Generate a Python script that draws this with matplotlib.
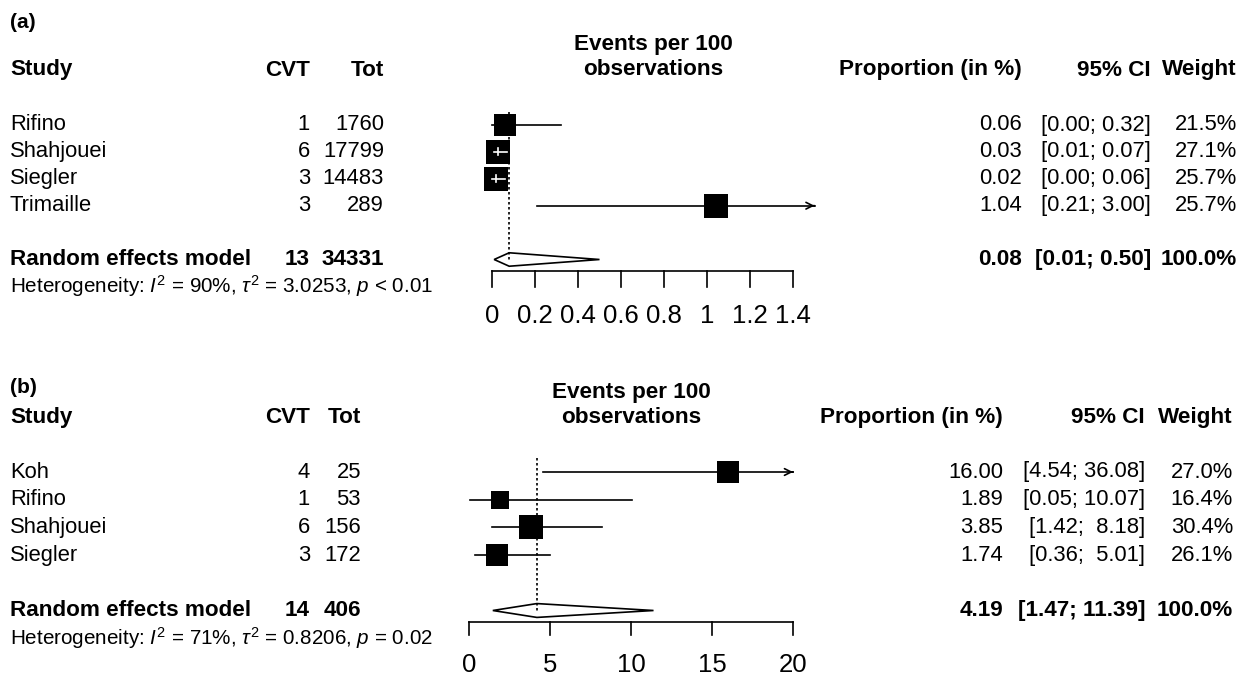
import numpy as np
import matplotlib
matplotlib.use("Agg")
import matplotlib.pyplot as plt
from matplotlib.transforms import blended_transform_factory
from matplotlib.patches import Polygon

plt.rcParams['font.family'] = ['Liberation Sans', 'DejaVu Sans']
plt.rcParams['mathtext.fontset'] = 'custom'
plt.rcParams['mathtext.rm'] = 'Liberation Sans'
plt.rcParams['mathtext.it'] = 'Liberation Sans:italic'
plt.rcParams['mathtext.bf'] = 'Liberation Sans:bold'

# --- данные панели (a) ---
studies_a = ["Rifino", "Shahjouei", "Siegler", "Trimaille"]
cvt_a = [1, 6, 3, 3]
tot_a = [1760, 17799, 14483, 289]
prop_a = [0.06, 0.03, 0.02, 1.04]
lo_a = [0.00, 0.01, 0.00, 0.21]
hi_a = [0.32, 0.07, 0.06, 3.00]
weight_a = [21.5, 27.1, 25.7, 25.7]
re_a = [0.08, 0.01, 0.50]  # оценка, нижняя, верхняя граница
re_cvt_a, re_tot_a = 13, 34331
het_a = r"Heterogeneity: $I^2$ = 90%, $\tau^2$ = 3.0253, $p$ < 0.01"
ticks_a = [0, 0.2, 0.4, 0.6, 0.8, 1, 1.2, 1.4]
ticklabels_a = ["0", "0.2", "0.4", "0.6", "0.8", "1", "1.2", "1.4"]
xlim_a = [0, 1.5]

# --- данные панели (b) ---
studies_b = ["Koh", "Rifino", "Shahjouei", "Siegler"]
cvt_b = [4, 1, 6, 3]
tot_b = [25, 53, 156, 172]
prop_b = [16.00, 1.89, 3.85, 1.74]
lo_b = [4.54, 0.05, 1.42, 0.36]
hi_b = [36.08, 10.07, 8.18, 5.01]
weight_b = [27.0, 16.4, 30.4, 26.1]
re_b = [4.19, 1.47, 11.39]
re_cvt_b, re_tot_b = 14, 406
het_b = r"Heterogeneity: $I^2$ = 71%, $\tau^2$ = 0.8206, $p$ = 0.02"
ticks_b = [0, 5, 10, 15, 20]
ticklabels_b = ["0", "5", "10", "15", "20"]
xlim_b = [0, 20]

W, H = 1252, 675
fig = plt.figure(figsize=(W / 100, H / 100), dpi=100)

FS = 15.8       # строки таблицы
FS_BOLD = 16.2  # заголовки и итоговая строка
FS_HET = 14.9
FS_TICK = 18.5


def draw_panel(label, studies, cvt, tot, prop, lo, hi, weight, re, re_cvt, re_tot,
               het, ticks, ticklabels, xlim, geo):
    # geo: раскладка в пикселях
    top, bottom, p0, s = geo["top"], geo["bottom"], geo["p0"], geo["s"]
    x0px, x1px = geo["x0px"], geo["x1px"]

    def row(px):
        return (px - p0) / s

    ax = fig.add_axes([440 / W, 1 - bottom / H, 400 / W, (bottom - top) / H])
    ppu = (x1px - x0px) / (xlim[1] - xlim[0])
    ax.set_xlim(xlim[0] - (x0px - 440) / ppu, xlim[1] + (840 - x1px) / ppu)
    ax.set_ylim(row(bottom), row(top))
    ax.axis("off")

    tr = blended_transform_factory(fig.transFigure, ax.transData)

    def txt(xpx, y, t, ha="left", bold=False, size=None):
        if size is None:
            size = FS_BOLD if bold else FS
        ax.text(xpx / W, y, t, transform=tr, ha=ha, va="center", fontsize=size,
                fontweight="bold" if bold else "normal", color="black")

    n = len(studies)
    y_sum = n + 1
    y_het = n + 2

    # заголовки
    txt(10, row(geo["label_y"]), label, bold=True, size=15)
    hy = row(geo["head_y"])
    txt(10, hy, "Study", bold=True)
    txt(310, hy, "CVT", ha="right", bold=True)
    txt(geo["tot_x"], hy, "Tot", ha="right", bold=True)
    txt(geo["prop_x"], hy, "Proportion (in %)", ha="right", bold=True)
    txt(geo["ci_x"], hy, "95% CI", ha="right", bold=True)
    txt(geo["w_x"], hy, "Weight", ha="right", bold=True)
    ax.text((xlim[0] + xlim[1]) / 2, row(geo["title_y"]), "Events per 100\nobservations",
            ha="center", va="center", fontsize=FS_BOLD, fontweight="bold", linespacing=1.2)

    wd = max(len(f"{v:.2f}") for v in hi)

    for i in range(n):
        txt(10, i, studies[i])
        txt(310, i, str(cvt[i]), ha="right")
        txt(geo["tot_x"], i, str(tot[i]), ha="right")
        txt(geo["prop_x"], i, f"{prop[i]:.2f}", ha="right")
        txt(geo["ci_x"], i, f"[{lo[i]:.2f}; {hi[i]:{wd}.2f}]", ha="right")
        txt(geo["w_x"], i, f"{weight[i]:.1f}%", ha="right")

    txt(10, y_sum, "Random effects model", bold=True)
    txt(310, y_sum, str(re_cvt), ha="right", bold=True)
    txt(geo["tot_x"], y_sum, str(re_tot), ha="right", bold=True)
    txt(geo["prop_x"], y_sum, f"{re[0]:.2f}", ha="right", bold=True)
    txt(geo["ci_x"], y_sum, f"[{re[1]:.2f}; {re[2]:.2f}]", ha="right", bold=True)
    txt(geo["w_x"], y_sum, "100.0%", ha="right", bold=True)
    txt(10, y_het, het, size=FS_HET)

    # квадраты и доверительные интервалы
    wmax = max(weight)
    for i in range(n):
        side = 24 * np.sqrt(weight[i] / wmax)
        half = side / 2 / ppu
        inside = lo[i] >= prop[i] - half and hi[i] <= prop[i] + half
        if inside:
            ax.plot([lo[i], hi[i]], [i, i], color="white", lw=1.2, zorder=4)
            ax.plot([prop[i], prop[i]], [i - 0.13, i + 0.13], color="white", lw=1.2, zorder=4)
        else:
            right = min(hi[i], xlim[1])
            ax.plot([max(lo[i], xlim[0]), right], [i, i], color="black", lw=1.2, zorder=2)
            if hi[i] > xlim[1]:
                ax.annotate("", xy=(xlim[1], i), xytext=(xlim[1] - 0.001 * (xlim[1] - xlim[0]), i),
                            arrowprops=dict(arrowstyle="->", color="black", lw=1.2,
                                            mutation_scale=12, shrinkA=0, shrinkB=0))
        ax.scatter([prop[i]], [i], marker="s", s=(side * 0.72) ** 2,
                   color="black", linewidths=0, zorder=3)

    # итоговый ромб и пунктир
    ax.plot([re[0], re[0]], [-0.5, y_sum], color="black", lw=1.2,
            ls=(0, (1.5, 1.5)), zorder=5)
    dh = 0.25
    diamond = Polygon([(re[1], y_sum), (re[0], y_sum - dh), (re[2], y_sum), (re[0], y_sum + dh)],
                      closed=True, facecolor="white", edgecolor="black", lw=1.2, zorder=2)
    ax.add_patch(diamond)

    # ось
    ya = row(geo["axis_y"])
    yt = row(geo["tick_y"])
    ax.plot([ticks[0], ticks[-1]], [ya, ya], color="black", lw=1.2)
    for t, tl in zip(ticks, ticklabels):
        ax.plot([t, t], [ya, yt], color="black", lw=1.2)
        ax.text(t, row(geo["ticklab_y"]), tl, ha="center", va="center", fontsize=FS_TICK)


geo_a = dict(top=0, bottom=337, p0=125, s=26.9, x0px=492, x1px=814.5,
             label_y=23, head_y=70, title_y=57, axis_y=271, tick_y=287, ticklab_y=316,
             tot_x=384, prop_x=1022, ci_x=1151, w_x=1237)
geo_b = dict(top=337, bottom=675, p0=472, s=27.7, x0px=469, x1px=793,
             label_y=388, head_y=418, title_y=405, axis_y=622, tick_y=635, ticklab_y=665,
             tot_x=361, prop_x=1003, ci_x=1145, w_x=1233)

draw_panel("(a)", studies_a, cvt_a, tot_a, prop_a, lo_a, hi_a, weight_a, re_a,
           re_cvt_a, re_tot_a, het_a, ticks_a, ticklabels_a, xlim_a, geo_a)
draw_panel("(b)", studies_b, cvt_b, tot_b, prop_b, lo_b, hi_b, weight_b, re_b,
           re_cvt_b, re_tot_b, het_b, ticks_b, ticklabels_b, xlim_b, geo_b)

fig.savefig("out.png", dpi=100, facecolor="white")
